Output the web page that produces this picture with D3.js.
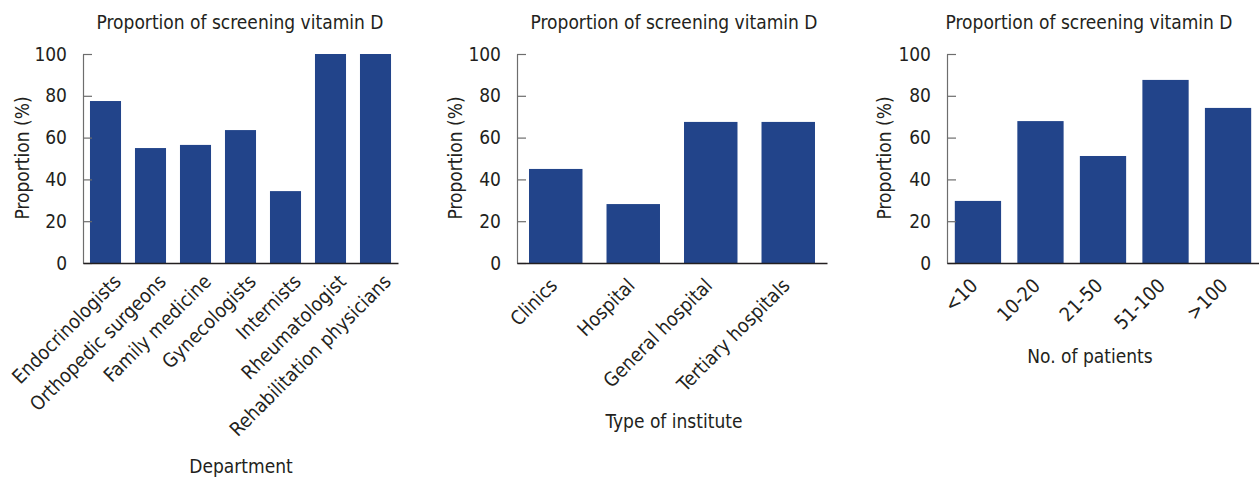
<!DOCTYPE html>
<html>
<head>
<meta charset="utf-8">
<script src="https://cdn.jsdelivr.net/npm/d3@7"></script>
<style>
  html, body { margin: 0; padding: 0; background: #fff; }
  svg { display: block; }
  text { font-family: "Liberation Sans Narrow", "DejaVu Sans Condensed", "Arial Narrow", sans-serif; fill: #231f20; }
</style>
</head>
<body>
<svg id="chart" width="1259" height="480"></svg>
<script>
// ---- data ----
const titleText = "Proportion of screening vitamin D";
const yLabelText = "Proportion (%)";
const yTicks = [0, 20, 40, 60, 80, 100];

const deptCategories = ["Endocrinologists", "Orthopedic surgeons", "Family medicine", "Gynecologists", "Internists", "Rheumatologist", "Rehabilitation physicians"];
const deptValues = [77.5, 55.0, 56.5, 63.6, 34.4, 100, 100];
const deptAxisTitle = "Department";

const instCategories = ["Clinics", "Hospital", "General hospital", "Tertiary hospitals"];
const instValues = [45.0, 28.2, 67.5, 67.5];
const instAxisTitle = "Type of institute";

const patientCategories = ["<10", "10-20", "21-50", "51-100", ">100"];
const patientValues = [29.7, 67.9, 51.2, 87.6, 74.2];
const patientAxisTitle = "No. of patients";

// ---- layout ----
const svg = d3.select("#chart");
const yTop = 54, yBottom = 263;
const barColor = "#22448a";
const fontStack = "'Liberation Sans Narrow', 'DejaVu Sans Condensed', sans-serif";

const panels = [
  { cats: deptCategories, vals: deptValues, xt: deptAxisTitle, x0: 83, x1: 398, pin: 0.31, pout: 0.155,
    titleX: 240, yLabX: 22, xtX: 241, xtY: 473, labOff: 12, labY: 278 },
  { cats: instCategories, vals: instValues, xt: instAxisTitle, x0: 517, x1: 827, pin: 0.31, pout: 0.155,
    titleX: 674, yLabX: 455, xtX: 674, xtY: 428, labOff: -2, labY: 282 },
  { cats: patientCategories, vals: patientValues, xt: patientAxisTitle, x0: 947, x1: 1259, pin: 0.26, pout: 0.125,
    titleX: 1089, yLabX: 884, xtX: 1090, xtY: 363, labOff: -4, labY: 282 }
];

const y = d3.scaleLinear().domain([0, 100]).range([yBottom, yTop]);

panels.forEach(p => {
  const g = svg.append("g");
  const x = d3.scaleBand().domain(p.cats).range([p.x0, p.x1])
    .paddingInner(p.pin).paddingOuter(p.pout);

  // bars
  g.selectAll("rect.bar").data(p.cats.map((c, i) => ({ c, v: p.vals[i] })))
    .enter().append("rect")
    .attr("class", "bar")
    .attr("x", d => x(d.c))
    .attr("width", x.bandwidth())
    .attr("y", d => y(d.v))
    .attr("height", d => y(0) - y(d.v))
    .attr("fill", barColor);

  // y axis
  const ya = g.append("g")
    .attr("transform", `translate(${p.x0},0)`)
    .call(d3.axisLeft(y).tickValues(yTicks).tickSizeInner(-9).tickSizeOuter(0).tickPadding(16));
  ya.select(".domain").attr("stroke", "#6d6d6d").attr("stroke-width", 1.2);
  ya.selectAll(".tick line").attr("stroke", "#6d6d6d").attr("stroke-width", 1.2);
  ya.selectAll(".tick text").style("font-size", "19px").attr("fill", "#231f20")
    .style("font-family", fontStack);

  // x axis
  const xa = g.append("g")
    .attr("transform", `translate(0,${yBottom})`)
    .call(d3.axisBottom(x).tickSize(0).tickSizeOuter(0));
  xa.select(".domain").attr("stroke", "#231f20").attr("stroke-width", 1.4);
  xa.selectAll(".tick text")
    .attr("y", 0).attr("x", 0).attr("dy", "0.35em")
    .attr("transform", `translate(${p.labOff},${p.labY - yBottom}) rotate(-45)`)
    .attr("text-anchor", "end")
    .attr("fill", "#231f20")
    .style("font-size", "19.5px")
    .style("font-family", fontStack);

  // title
  g.append("text").attr("x", p.titleX).attr("y", 29)
    .attr("text-anchor", "middle").style("font-size", "19px").text(titleText);

  // y label
  g.append("text")
    .attr("transform", `translate(${p.yLabX + 7},158) rotate(-90)`)
    .attr("text-anchor", "middle").style("font-size", "19px").text(yLabelText);

  // x axis title
  g.append("text").attr("x", p.xtX).attr("y", p.xtY)
    .attr("text-anchor", "middle").style("font-size", "19px").text(p.xt);
});
</script>
</body>
</html>
